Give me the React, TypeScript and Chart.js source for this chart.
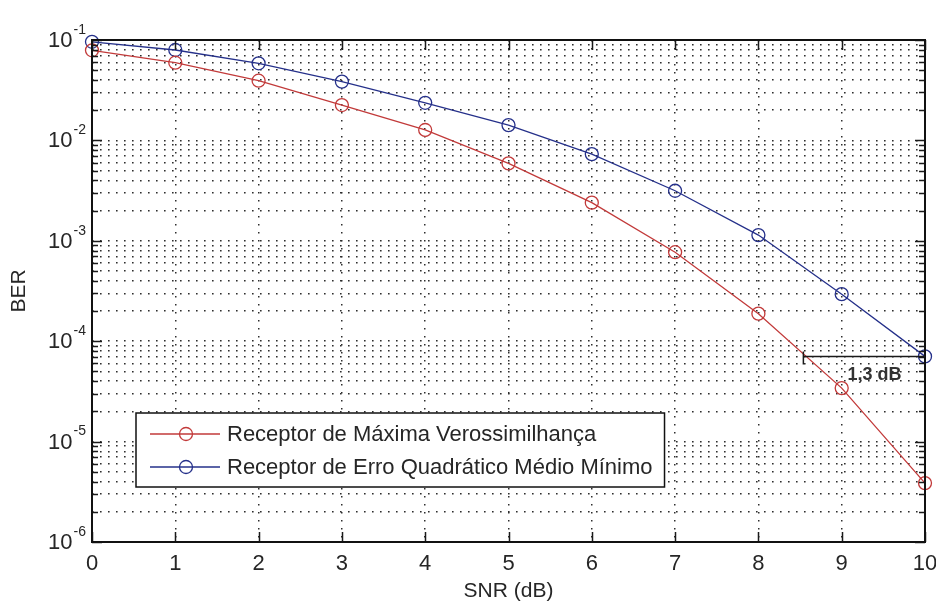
import React, { useEffect, useRef } from 'react';
import { Chart, registerables } from 'chart.js';

Chart.register(...registerables);

// ---- data ----
const snrDb = [0, 1, 2, 3, 4, 5, 6, 7, 8, 9, 10];
const berML = [0.079, 0.0594, 0.0393, 0.0225, 0.0127, 0.0059, 0.0024, 0.00077, 0.000188, 3.41e-5, 3.86e-6];
const berMMSE = [0.096, 0.0795, 0.0586, 0.0385, 0.0237, 0.0142, 0.0073, 0.00315, 0.00114, 0.000294, 7.06e-5];
const seriesLabels = ['Receptor de Máxima Verossimilhança', 'Receptor de Erro Quadrático Médio Mínimo'];
const seriesColors = ['#c23a3a', '#25308a'];
const decadeExponents = [-6, -5, -4, -3, -2, -1];
const minorMultipliers = [1, 2, 3, 4, 5, 6, 7, 8, 9];
const gapX = [8.54, 10];
const gapBer = 7.06e-5;
const gapLabel = '1,3 dB';
const gapLabelX = 9.07;
const xTitle = 'SNR (dB)';
const yTitle = 'BER';

const yMin = 1e-6;
const yMax = 1e-1;
const yTickValues = decadeExponents
  .flatMap((e) => minorMultipliers.map((m) => Number((m * Math.pow(10, e)).toPrecision(6))))
  .filter((v) => v <= yMax * 1.0000001);

const FONT = '"Liberation Sans", Arial, Helvetica, sans-serif';

const decor = {
  id: 'matlabDecor',
  afterDraw(chart: any) {
    const { ctx, chartArea: a, scales } = chart;
    const x = scales.x;
    const y = scales.y;
    ctx.save();

    // inward tick marks
    ctx.strokeStyle = '#1a1a1a';
    ctx.lineWidth = 1.5;
    ctx.setLineDash([]);
    ctx.beginPath();
    x.ticks.forEach((t: any) => {
      const px = Math.round(x.getPixelForValue(t.value)) + 0.5;
      ctx.moveTo(px, a.bottom);
      ctx.lineTo(px, a.bottom - 10);
      ctx.moveTo(px, a.top);
      ctx.lineTo(px, a.top + 10);
    });
    y.ticks.forEach((t: any) => {
      const lg = Math.log10(t.value);
      const major = Math.abs(lg - Math.round(lg)) < 1e-6;
      const len = major ? 10 : 6;
      const py = Math.round(y.getPixelForValue(t.value)) + 0.5;
      ctx.moveTo(a.left, py);
      ctx.lineTo(a.left + len, py);
      ctx.moveTo(a.right, py);
      ctx.lineTo(a.right - len, py);
    });
    ctx.stroke();

    // axes box
    ctx.lineWidth = 2;
    ctx.strokeStyle = '#111';
    ctx.strokeRect(a.left, a.top, a.right - a.left, a.bottom - a.top);

    // y tick labels 10^e
    ctx.fillStyle = '#262626';
    decadeExponents.forEach((e) => {
      const py = y.getPixelForValue(Math.pow(10, e));
      const expStr = String(e);
      ctx.font = `14px ${FONT}`;
      const ew = ctx.measureText(expStr).width;
      ctx.textAlign = 'right';
      ctx.textBaseline = 'middle';
      const right = a.left - 6;
      ctx.fillText(expStr, right, py - 10);
      ctx.font = `22px ${FONT}`;
      ctx.fillText('10', right - ew - 1, py + 1);
    });

    // axis titles
    ctx.font = `21px ${FONT}`;
    ctx.fillStyle = '#262626';
    ctx.textAlign = 'center';
    ctx.textBaseline = 'middle';
    ctx.fillText(xTitle, (a.left + a.right) / 2, 591);
    ctx.save();
    ctx.translate(19, (a.top + a.bottom) / 2);
    ctx.rotate(-Math.PI / 2);
    ctx.fillText(yTitle, 0, 0);
    ctx.restore();

    // annotation
    const x1 = x.getPixelForValue(gapX[0]);
    const x2 = x.getPixelForValue(gapX[1]);
    const gy = Math.round(y.getPixelForValue(gapBer)) + 0.5;
    ctx.strokeStyle = '#1a1a1a';
    ctx.lineWidth = 1.5;
    ctx.beginPath();
    ctx.moveTo(x1, gy);
    ctx.lineTo(x2, gy);
    ctx.moveTo(x1, gy - 5);
    ctx.lineTo(x1, gy + 8);
    ctx.stroke();
    ctx.font = `bold 18px ${FONT}`;
    ctx.fillStyle = '#333';
    ctx.textAlign = 'left';
    ctx.textBaseline = 'alphabetic';
    ctx.fillText(gapLabel, x.getPixelForValue(gapLabelX), gy + 23);

    // legend
    ctx.font = `22px ${FONT}`;
    const tw = Math.max(...seriesLabels.map((l) => ctx.measureText(l).width));
    const bx = a.left + 44;
    const by = a.top + 373;
    const bh = 74;
    const textX = bx + 91;
    const bw = textX - bx + tw + 12;
    ctx.fillStyle = '#fff';
    ctx.fillRect(bx, by, bw, bh);
    ctx.lineWidth = 1.5;
    ctx.strokeStyle = '#111';
    ctx.strokeRect(bx, by, bw, bh);
    seriesLabels.forEach((lab, i) => {
      const cy = by + 21 + i * 33;
      ctx.strokeStyle = seriesColors[i];
      ctx.lineWidth = 1.3;
      ctx.beginPath();
      ctx.moveTo(bx + 14, cy);
      ctx.lineTo(bx + 84, cy);
      ctx.stroke();
      ctx.beginPath();
      ctx.arc(bx + 50, cy, 6.5, 0, Math.PI * 2);
      ctx.stroke();
      ctx.fillStyle = '#262626';
      ctx.textAlign = 'left';
      ctx.textBaseline = 'middle';
      ctx.fillText(lab, textX, cy + 1);
    });

    ctx.restore();
  },
};

export default function App() {
  const ref = useRef<HTMLCanvasElement | null>(null);

  useEffect(() => {
    if (!ref.current) return;
    const mk = (vals: number[], i: number) => ({
      label: seriesLabels[i],
      data: snrDb.map((s, k) => ({ x: s, y: vals[k] })),
      borderColor: seriesColors[i],
      backgroundColor: 'rgba(0,0,0,0)',
      pointBackgroundColor: 'rgba(0,0,0,0)',
      pointBorderColor: seriesColors[i],
      pointRadius: 6.5,
      pointBorderWidth: 1.3,
      borderWidth: 1.3,
      tension: 0,
      clip: false as any,
    });
    const gridCommon = {
      color: '#2e2e2e',
      lineWidth: 1.5,
      drawTicks: false,
    };
    const chart = new Chart(ref.current, {
      type: 'line',
      data: { datasets: [mk(berML, 0), mk(berMMSE, 1)] },
      plugins: [decor],
      options: {
        animation: false,
        responsive: false,
        layout: { padding: { top: 40, right: 11, left: 0, bottom: 0 } },
        plugins: { legend: { display: false }, tooltip: { enabled: false } },
        scales: {
          x: {
            type: 'linear',
            min: 0,
            max: 10,
            ticks: { stepSize: 1, font: { size: 22, family: FONT }, color: '#262626', padding: 9 },
            grid: gridCommon,
            border: { display: false, dash: [1.6, 6.4] },
            afterFit: (s: any) => {
              s.height = 62;
              s.paddingLeft = 0;
              s.paddingRight = 0;
            },
          },
          y: {
            type: 'logarithmic',
            min: yMin,
            max: yMax,
            ticks: { display: false },
            grid: gridCommon,
            border: { display: false, dash: [1.6, 6.4] },
            afterBuildTicks: (s: any) => { s.ticks = yTickValues.map((v) => ({ value: v })); },
            afterFit: (s: any) => {
              s.width = 92;
              s.paddingTop = 0;
              s.paddingBottom = 0;
            },
          },
        },
      } as any,
    });
    return () => chart.destroy();
  }, []);

  return (
    <div style={{ position: 'fixed', left: 0, top: 0, width: 936, height: 604, background: '#fff' }}>
      <canvas ref={ref} width={936} height={604} style={{ display: 'block' }} />
    </div>
  );
}
